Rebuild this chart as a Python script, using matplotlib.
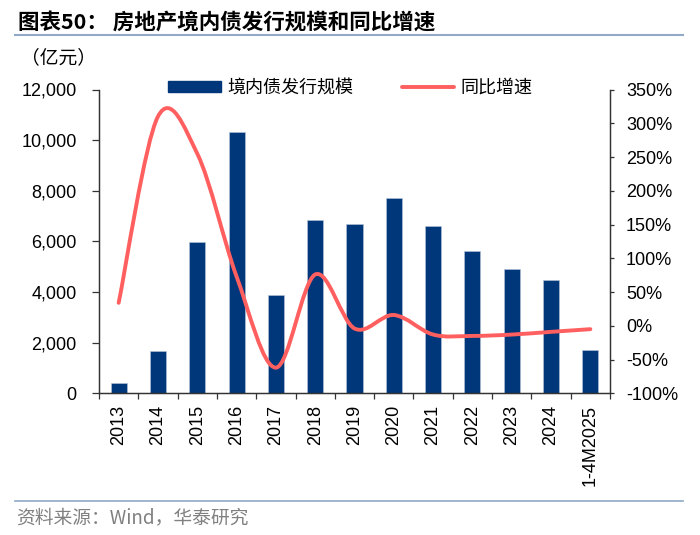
import numpy as np
import matplotlib
matplotlib.use('Agg')
import matplotlib.pyplot as plt
from matplotlib.path import Path
from matplotlib.patches import PathPatch, Patch
from matplotlib.lines import Line2D
from matplotlib.ticker import FuncFormatter, MultipleLocator

plt.rcParams['font.family'] = ['Liberation Sans', 'Noto Sans CJK SC', 'DejaVu Sans']

years = ['2013', '2014', '2015', '2016', '2017', '2018', '2019', '2020',
         '2021', '2022', '2023', '2024', '1-4M2025']
scale = [395, 1670, 5960, 10310, 3895, 6835, 6675, 7725, 6620, 5620, 4900, 4465, 1700]
yoy = [34, 310, 255, 73, -62, 76, -4, 16, -13, -15, -13, -9, -5]

bar_color = '#00367A'
line_color = '#FF5F5F'
rule_color = '#8FA9C6'

fig = plt.figure(figsize=(7, 5.35), dpi=100)
ax = fig.add_axes([99 / 700, (535 - 393.3) / 535, 511 / 700, 303.8 / 535])
ax2 = ax.twinx()

x = np.arange(len(years))
ax.bar(x, scale, width=0.41, color=bar_color, edgecolor='#B8C6DA', linewidth=0.4, zorder=2)
ax.set_xlim(-0.5, len(years) - 0.5)
ax.set_ylim(0, 12000)
ax.yaxis.set_major_locator(MultipleLocator(2000))
ax.yaxis.set_major_formatter(FuncFormatter(lambda v, p: f'{int(v):,}'))

# smoothed line (bezier through the points, like excel's smooth line)
pts = np.column_stack([x, yoy]).astype(float)
n = len(pts)
verts = [tuple(pts[0])]
codes = [Path.MOVETO]
for i in range(n - 1):
    p0, p1 = pts[i], pts[i + 1]
    pm = pts[i - 1] if i > 0 else pts[i]
    pp = pts[i + 2] if i + 2 < n else pts[i + 1]
    c1 = p0 + (p1 - pm) / 6
    c2 = p1 - (pp - p0) / 6
    verts += [tuple(c1), tuple(c2), tuple(p1)]
    codes += [Path.CURVE4] * 3
ax2.add_patch(PathPatch(Path(verts, codes), facecolor='none', edgecolor=line_color,
                        lw=2.8, capstyle='round', joinstyle='round', zorder=3))
ax2.set_ylim(-100, 350)
ax2.yaxis.set_major_locator(MultipleLocator(50))
ax2.yaxis.set_major_formatter(FuncFormatter(lambda v, p: f'{int(v)}%'))

for a in (ax, ax2):
    a.spines['top'].set_visible(False)
    for s in ('left', 'right', 'bottom'):
        a.spines[s].set_color('#333333')
        a.spines[s].set_linewidth(0.9)
ax.tick_params(axis='y', labelsize=13, length=5, width=0.9, colors='#333333', labelcolor='black', pad=11)
ax2.tick_params(axis='y', labelsize=13, length=3, width=0.9, colors='#333333', labelcolor='black', pad=8.5)

ax.set_xticks(x)
ax.set_xticklabels(years, rotation=90, fontsize=13)
ax.set_xticks(np.arange(-0.5, len(years)), minor=True)
ax.tick_params(axis='x', which='major', length=0, pad=8.5)
ax.tick_params(axis='x', which='minor', length=4, width=0.9, colors='#333333')

handles = [Patch(color=bar_color), Line2D([0], [0], color=line_color, lw=2.8, solid_capstyle='round')]
ax.legend(handles, ['境内债发行规模', '同比增速'], loc='center', bbox_to_anchor=(0.492, 1.005),
          ncol=2, frameon=False, handlelength=2.9, handleheight=0.5,
          columnspacing=2.7, handletextpad=0.35,
          prop={'family': ['Noto Sans CJK SC'], 'size': 13})

fig.text(18 / 700, 1 - 23 / 535, '图表50： 房地产境内债发行规模和同比增速', fontsize=15.5,
         fontweight='bold', va='center', ha='left', family=['Noto Sans CJK SC', 'DejaVu Sans'])
fig.add_artist(Line2D([15 / 700, 683 / 700], [1 - 35 / 535, 1 - 35 / 535], color=rule_color, lw=1.5))
fig.text(21 / 700, 1 - 58 / 535, '（亿元）', fontsize=13.5, va='center', ha='left',
         family=['Noto Sans CJK SC'])
fig.add_artist(Line2D([15 / 700, 683 / 700], [1 - 501 / 535, 1 - 501 / 535], color=rule_color, lw=1.2))
fig.text(16 / 700, 1 - 518 / 535, '资料来源：Wind，华泰研究', fontsize=13.5, color='#808080',
         va='center', ha='left', family=['Noto Sans CJK SC', 'Liberation Sans'])

fig.savefig('out.png', dpi=100)
